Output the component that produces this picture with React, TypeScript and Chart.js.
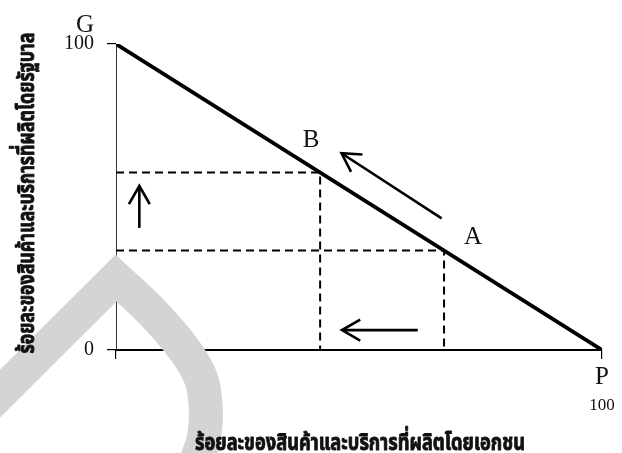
import React, { useEffect, useRef } from "react";
import { Chart, registerables } from "chart.js";

Chart.register(...registerables);

// ---- data ----
const frontierX = [0, 100];
const frontierY = [100, 0];
const pointB = [42, 58];
const pointA = [67.5, 32.5];
const xTickValues = [0, 100];
const xTickLabels = ["", "100"];
const yTickValues = [0, 100];
const yTickLabels = ["0", "100"];
// arrows: [tail, head]
const arrowAlong = [[67, 43], [46.4, 64.3]];
const arrowUp = [[4.8, 39.9], [4.8, 53.6]];
const arrowLeft = [[62.1, 6.5], [46.5, 6.5]];
// scanned watermark band (centre line; apex listed twice to keep it sharp)
const watermarkX = [-30, 0, 0, 7.6, 14.1, 17.6, 18.5, 18.0, 17.1, 15.2];
const watermarkY = [-24, 23.5, 23.5, 12.1, 0, -9.8, -20.6, -29.4, -33.7, -42.5];
const labelA = "A";
const labelB = "B";
const labelG = "G";
const labelP = "P";
const yTitle = "ร้อยละของสินค้าและบริการที่ผลิตโดยรัฐบาล";
const xTitle = "ร้อยละของสินค้าและบริการที่ผลิตโดยเอกชน";

const SERIF = "'Liberation Serif', 'Times New Roman', serif";
const THAI = "'Noto Sans Thai', 'Noto Sans', 'DejaVu Sans', sans-serif";

const toPts = (xs: number[], ys: number[]) => xs.map((x, i) => ({ x, y: ys[i] }));
const arrowPts = (a: number[][]) => a.map(([x, y]) => ({ x, y }));

const annotPlugin = {
  id: "annot",
  afterDraw(chart: any) {
    const { ctx, chartArea, scales } = chart;
    const xs = scales.x;
    const ys = scales.y;
    const px = (v: number) => xs.getPixelForValue(v);
    const py = (v: number) => ys.getPixelForValue(v);

    // arrow heads (open V)
    const heads = [arrowAlong, arrowUp, arrowLeft];
    ctx.save();
    ctx.strokeStyle = "#000";
    ctx.lineWidth = 2.6;
    ctx.lineCap = "butt";
    ctx.lineJoin = "miter";
    heads.forEach((a) => {
      const tx = px(a[0][0]), ty = py(a[0][1]);
      const hx = px(a[1][0]), hy = py(a[1][1]);
      const ang = Math.atan2(hy - ty, hx - tx);
      const len = 21;
      const spread = 0.52;
      ctx.beginPath();
      ctx.moveTo(hx - len * Math.cos(ang - spread), hy - len * Math.sin(ang - spread));
      ctx.lineTo(hx, hy);
      ctx.lineTo(hx - len * Math.cos(ang + spread), hy - len * Math.sin(ang + spread));
      ctx.stroke();
    });
    ctx.restore();

    // letter labels
    ctx.save();
    ctx.fillStyle = "#111";
    ctx.textAlign = "center";
    ctx.textBaseline = "middle";
    ctx.font = `25px ${SERIF}`;
    ctx.fillText(labelB, px(pointB[0]) - 9, py(pointB[1]) - 32);
    ctx.fillText(labelA, px(pointA[0]) + 29, py(pointA[1]) - 13);
    ctx.fillText(labelG, px(0) - 31, py(100) - 19);
    ctx.fillText(labelP, px(100), py(0) + 27);
    ctx.restore();

    // axis titles (condensed heavy Thai)
    const drawFitted = (text: string, cx: number, cy: number, targetW: number, rotate: boolean) => {
      ctx.save();
      ctx.font = `bold 23px ${THAI}`;
      const w = ctx.measureText(text).width;
      const sx = targetW / w;
      ctx.translate(cx, cy);
      if (rotate) ctx.rotate(-Math.PI / 2);
      ctx.scale(sx, 1);
      ctx.fillStyle = "#111";
      ctx.strokeStyle = "#111";
      ctx.lineWidth = 0.9;
      ctx.lineJoin = "round";
      ctx.textAlign = "center";
      ctx.textBaseline = "alphabetic";
      ctx.fillText(text, 0, 0);
      ctx.strokeText(text, 0, 0);
      ctx.restore();
    };
    const midX = (chartArea.left + chartArea.right) / 2;
    const midY = (chartArea.top + chartArea.bottom) / 2;
    drawFitted(xTitle, midX + 1, chartArea.bottom + 100, 330, false);
    drawFitted(yTitle, chartArea.left - 82.5, midY - 4, 321, true);
  },
};

export default function App() {
  const ref = useRef<HTMLCanvasElement | null>(null);
  useEffect(() => {
    if (!ref.current) return;
    const line = (data: any[], extra: any = {}) => ({
      type: "line",
      data,
      borderColor: "#000",
      backgroundColor: "transparent",
      pointRadius: 0,
      fill: false,
      tension: 0,
      ...extra,
    });
    const chart = new Chart(ref.current, {
      type: "line",
      data: {
        datasets: [
          line(toPts(frontierX, frontierY), { borderWidth: 3.8, borderCapStyle: "round" }),
          line(
            [
              { x: 0, y: pointB[1] },
              { x: pointB[0], y: pointB[1] },
              { x: pointB[0], y: 0 },
            ],
            { borderWidth: 2, borderDash: [8, 5] }
          ),
          line(
            [
              { x: 0, y: pointA[1] },
              { x: pointA[0], y: pointA[1] },
              { x: pointA[0], y: 0 },
            ],
            { borderWidth: 2, borderDash: [8, 5] }
          ),
          line(arrowPts(arrowAlong), { borderWidth: 2.6 }),
          line(arrowPts(arrowUp), { borderWidth: 2.6 }),
          line(arrowPts(arrowLeft), { borderWidth: 2.6 }),
          line(toPts(watermarkX, watermarkY), {
            borderColor: "#d4d4d4",
            borderWidth: 34,
            borderJoinStyle: "miter",
            tension: 0.35,
            capBezierPoints: false,
            clip: false,
          }),
        ] as any,
      },
      options: {
        animation: false,
        responsive: false,
        events: [],
        layout: { padding: { left: 0, right: 20, top: 44, bottom: 0 } },
        plugins: { legend: { display: false }, tooltip: { enabled: false }, title: { display: false } },
        scales: {
          x: {
            type: "linear",
            min: 0,
            max: 100,
            z: 1,
            afterFit: (s: any) => {
              s.height = 103;
              s.paddingLeft = 0;
              s.paddingRight = 12;
            },
            afterBuildTicks: (s: any) => {
              s.ticks = xTickValues.map((v) => ({ value: v }));
            },
            ticks: {
              autoSkip: false,
              maxRotation: 0,
              padding: 36,
              color: "#111",
              font: { family: SERIF, size: 17 },
              callback: (v: any) => xTickLabels[xTickValues.indexOf(Number(v))] ?? "",
            },
            grid: { drawOnChartArea: false, drawTicks: true, tickLength: 9, color: "#000", lineWidth: 1.2 },
            border: { display: true, color: "#000", width: 2 },
          },
          y: {
            type: "linear",
            min: 0,
            max: 100,
            z: 1,
            afterFit: (s: any) => {
              s.width = 116;
              s.paddingTop = 0;
              s.paddingBottom = 0;
            },
            afterBuildTicks: (s: any) => {
              s.ticks = yTickValues.map((v) => ({ value: v }));
            },
            ticks: {
              autoSkip: false,
              padding: 13,
              color: "#111",
              font: { family: SERIF, size: 20 },
              callback: (v: any) => yTickLabels[yTickValues.indexOf(Number(v))] ?? "",
            },
            grid: { drawOnChartArea: false, drawTicks: true, tickLength: 9, color: "#000", lineWidth: 1.2 },
            border: { display: true, color: "#333", width: 1 },
          },
        },
      } as any,
      plugins: [annotPlugin],
    });
    return () => chart.destroy();
  }, []);
  return (
    <div style={{ position: "fixed", left: 0, top: 0, width: 622, height: 453, background: "#fff" }}>
      <canvas ref={ref} width={622} height={453} style={{ display: "block" }} />
    </div>
  );
}
